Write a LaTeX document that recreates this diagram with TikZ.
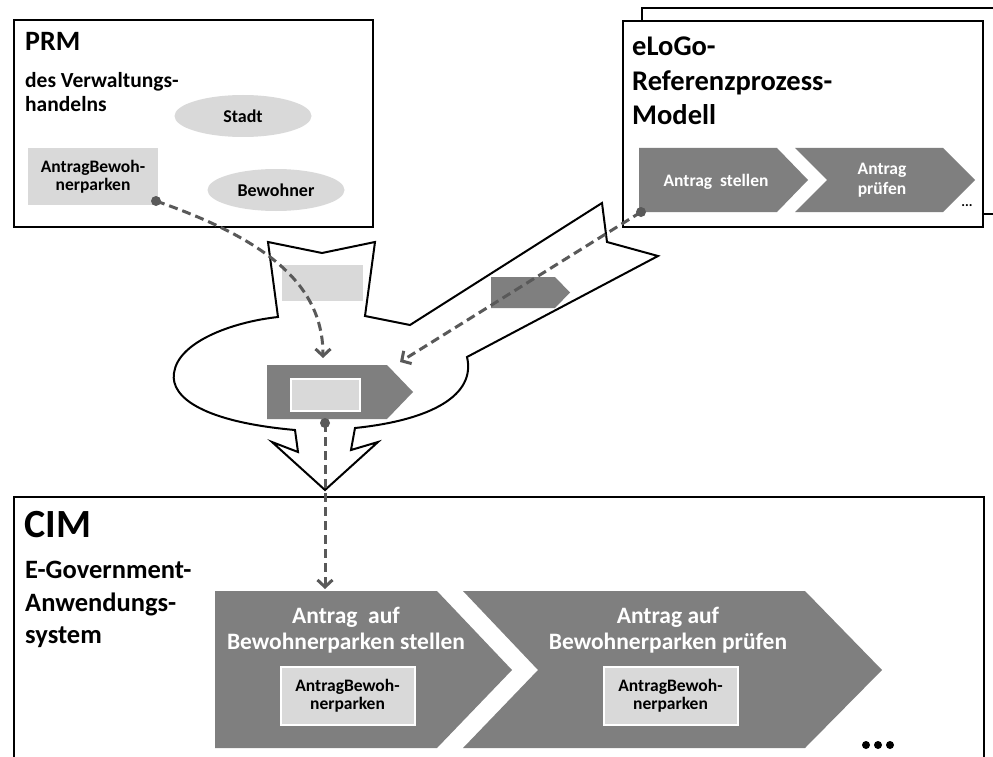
\documentclass[tikz,border=0pt]{standalone}
\usepackage{fontspec}
\setmainfont{Carlito}
\usetikzlibrary{arrows.meta,shapes.geometric}

\definecolor{chevgray}{HTML}{7F7F7F}
\definecolor{objgray}{HTML}{D9D9D9}
\definecolor{linkgray}{HTML}{595959}

\newcommand{\fs}[1]{\bfseries\fontsize{#1}{#1}\selectfont}

\begin{document}
\begin{tikzpicture}[x=1pt,y=-1pt,
    model/.style={draw=black,line width=2pt},
    title/.style={anchor=north west,inner sep=0pt,align=left},
    chev/.style={fill=chevgray},
    obj/.style={fill=objgray,align=center},
    role/.style={ellipse,fill=objgray,minimum width=137pt,minimum height=42pt,font=\fs{18}},
    label/.style={text=white,align=center},
    dot/.style={circle,fill=linkgray,minimum size=10pt,inner sep=0pt},
    link/.style={draw=linkgray,line width=3pt,dash pattern=on 9pt off 5pt,-{Straight Barb[length=7pt,width=15pt]}},
    blob/.style={draw=black,line width=2pt,fill=white,line join=miter}]
    \useasboundingbox (0,0) rectangle (993,757);

    % PRM
    \draw[model] (14,20) rectangle (373,227);
    \node[title,font=\fs{28}] (prm) at (25,32) {PRM};
    \node[title,font=\fs{21.5}] (prmsub) at (25,72) {des Verwaltungs-\\[3pt]handelns};
    \node[role] (stadt) at (243,116) {Stadt};
    \node[role] (bewohner) at (276,190) {Bewohner};
    \node[obj,minimum width=130pt,minimum height=57pt,font=\fs{17.5}] (prmobj) at (93,176.5) {AntragBewoh-\\[1pt]nerparken};

    % eLoGo reference model (two stacked sheets)
    \draw[model,fill=white] (642,8) rectangle (1003,214);
    \draw[model,fill=white] (623,21) rectangle (983,227);
    \node[title,font=\fs{28.5}] (elogo) at (632,37) {eLoGo-\\[6pt]Referenzprozess-\\[6pt]Modell};
    \fill[chev] (639,148) -- (777,148) -- (808,180) -- (777,212) -- (639,212) -- cycle;
    \fill[chev] (795,148) -- (943,148) -- (975,180) -- (943,212) -- (795,212) -- (827,180) -- cycle;
    \node[label,font=\fs{17.5}] (stellen) at (716,182) {Antrag~~stellen};
    \node[label,font=\fs{17.5}] (pruefen) at (882,180) {Antrag\\[2pt]prüfen};
    \node[font=\fs{14}] (elogomore) at (967,206) {...};

    % merging arrow
    \draw[blob] (268,242) -- (322,253) -- (375,242) -- (365,316) -- (410,325)
        -- (602,203) -- (607,242) -- (658,256) -- (467,357)
        .. controls (476,395) and (432,420) .. (355,428)
        -- (351,450) -- (378,442) -- (325,490) -- (272,442) -- (298,452) -- (295,430)
        .. controls (205,422) and (170,398) .. (174,373)
        .. controls (178,342) and (232,322) .. (278,317) -- cycle;
    \fill[objgray] (282,265) rectangle (363,301);
    \fill[chev] (491,277) -- (555,277) -- (570,292.5) -- (555,308) -- (491,308) -- cycle;
    \fill[chev] (267,365) -- (387,365) -- (413,392) -- (387,419) -- (267,419) -- cycle;
    \draw[white,line width=2pt,fill=objgray] (291,379) rectangle (360,411);
    \coordinate (mergetop) at (323,358);
    \coordinate (mergeright) at (400,362);

    % CIM
    \draw[model] (14,770) -- (14,497) -- (984,497) -- (984,770);
    \node[title,font=\fs{40}] (cim) at (24,511) {CIM};
    \node[title,font=\fs{26.5}] (cimsub) at (25,561) {E-Government-\\[6pt]Anwendungs-\\[6pt]system};
    \fill[chev] (215,591) -- (437,591) -- (512,670) -- (437,748) -- (215,748) -- cycle;
    \fill[chev] (463,591) -- (805,591) -- (882,670) -- (805,748) -- (463,748) -- (538,670) -- cycle;
    \node[label,font=\fs{23.5}] (cimstellen) at (346,630) {Antrag~~auf\\[2pt]Bewohnerparken stellen};
    \node[label,font=\fs{23.5}] (cimpruefen) at (668,630) {Antrag auf\\[2pt]Bewohnerparken prüfen};
    \node[obj,draw=white,line width=2pt,minimum width=134pt,minimum height=58pt,font=\fs{17.5}] (cimobja) at (347.5,695.5) {AntragBewoh-\\[1pt]nerparken};
    \node[obj,draw=white,line width=2pt,minimum width=134pt,minimum height=58pt,font=\fs{17.5}] (cimobjb) at (670.5,695.5) {AntragBewoh-\\[1pt]nerparken};
    \coordinate (cimin) at (325,589);
    \foreach \x in {866,878,890}
        \fill (\x,745) circle (4pt);

    % dashed traces
    \node[dot] (prmdot) at (156,201) {};
    \node[dot] (elogodot) at (641,212) {};
    \node[dot] (mergedot) at (325,423) {};
    \draw[link] (prmdot.center) .. controls (262,238) and (323,282) .. (mergetop);
    \draw[link] (elogodot.center) -- (mergeright);
    \draw[link] (mergedot.center) -- (cimin);
\end{tikzpicture}
\end{document}
